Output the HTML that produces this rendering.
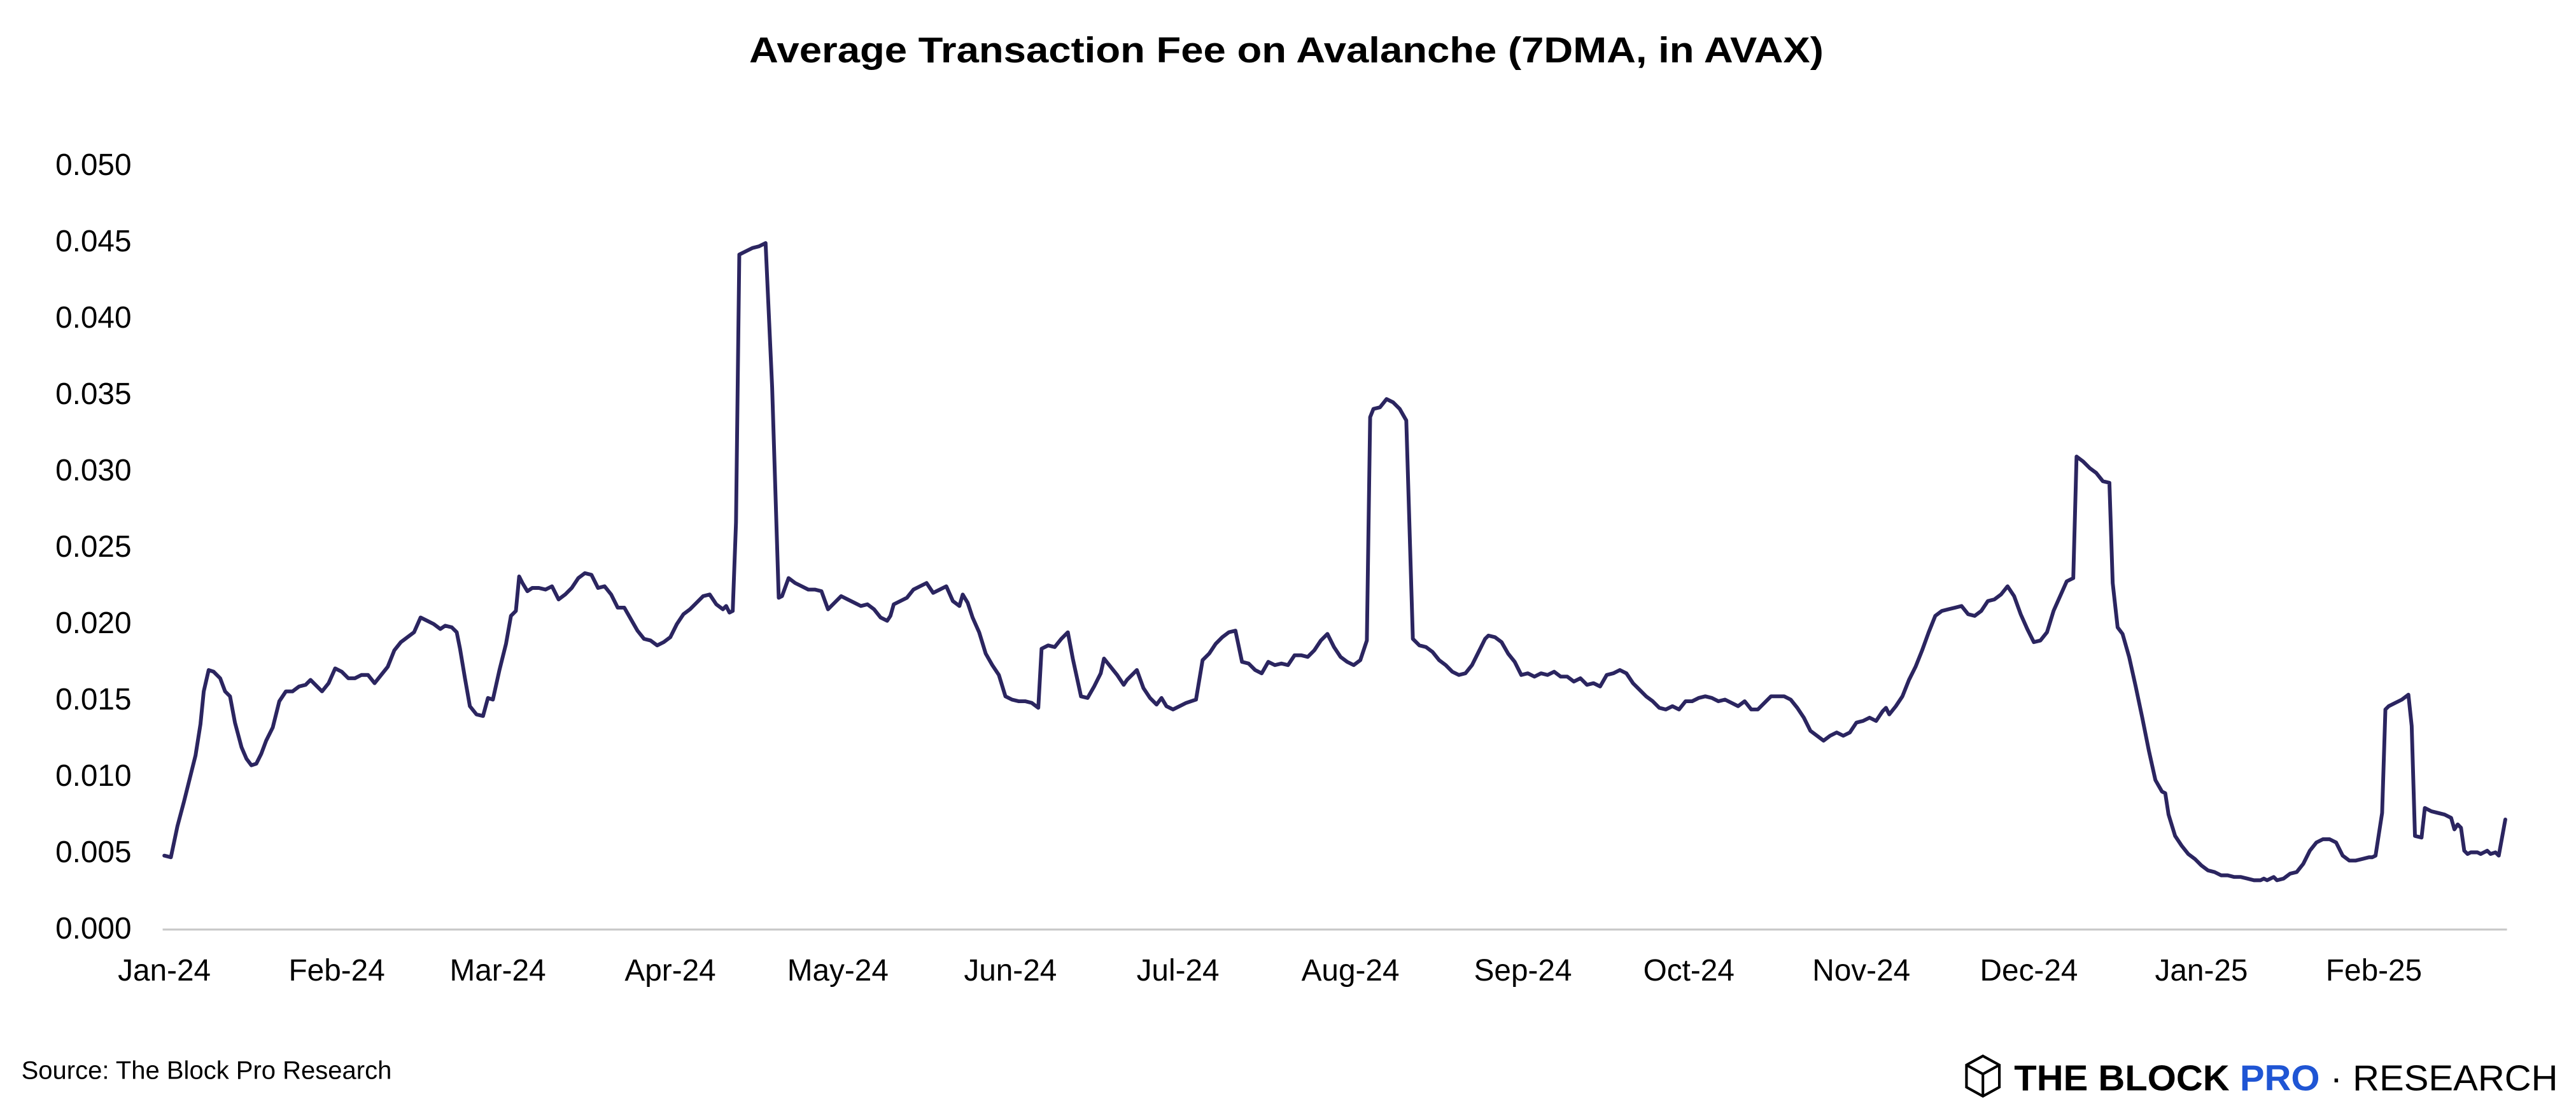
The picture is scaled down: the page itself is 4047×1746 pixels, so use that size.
<!DOCTYPE html>
<html><head><meta charset="utf-8"><style>
html,body{margin:0;padding:0;background:#fff;}
svg{display:block;}
text{font-family:"Liberation Sans",sans-serif;}
</style></head><body>
<svg width="4047" height="1746" viewBox="0 0 1568 676.5" xmlns="http://www.w3.org/2000/svg">
<text x="783" y="38" text-anchor="middle" font-size="22" font-weight="bold" fill="#000" textLength="654" lengthAdjust="spacingAndGlyphs">Average Transaction Fee on Avalanche (7DMA, in AVAX)</text>
<g font-size="18.5" fill="#000" text-anchor="end">
<text x="80" y="106.5">0.050</text>
<text x="80" y="153">0.045</text>
<text x="80" y="199.5">0.040</text>
<text x="80" y="246">0.035</text>
<text x="80" y="292.5">0.030</text>
<text x="80" y="339">0.025</text>
<text x="80" y="385.5">0.020</text>
<text x="80" y="432">0.015</text>
<text x="80" y="478.5">0.010</text>
<text x="80" y="525">0.005</text>
<text x="80" y="571.5">0.000</text>
</g>
<line x1="99" y1="566" x2="1526" y2="566" stroke="#c8c8c8" stroke-width="1.2"/>
<g font-size="18.5" fill="#000" text-anchor="middle">
<text x="100" y="597">Jan-24</text>
<text x="205" y="597">Feb-24</text>
<text x="303" y="597">Mar-24</text>
<text x="408" y="597">Apr-24</text>
<text x="510" y="597">May-24</text>
<text x="615" y="597">Jun-24</text>
<text x="717" y="597">Jul-24</text>
<text x="822" y="597">Aug-24</text>
<text x="927" y="597">Sep-24</text>
<text x="1028" y="597">Oct-24</text>
<text x="1133" y="597">Nov-24</text>
<text x="1235" y="597">Dec-24</text>
<text x="1340" y="597">Jan-25</text>
<text x="1445" y="597">Feb-25</text>
</g>
<polyline fill="none" stroke="#2b2560" stroke-width="2.3" stroke-linejoin="round" stroke-linecap="round" points="100,521 104,522 108,503 112,488 116,472 119,460 122,441 124,421 127,408 130,409 134,413 137,421 140,424 143,440 147,455 150,462 153,466 156,465 159,459 162,451 166,443 170,427 174,421 178,421 182,418 186,417 189,414 192,417 196,421 200,416 204,407 208,409 212,413 216,413 220,411 224,411 228,416 232,411 236,406 240,396 244,391 248,388 252,385 256,376 260,378 264,380 268,383 271,381 275,382 278,385 280,395 283,413 286,430 290,435 294,436 297,425 300,426 304,408 308,392 311,375 314,372 316,351 318,355 321,360 324,358 328,358 332,359 336,357 340,365 344,362 348,358 352,352 356,349 360,350 364,358 368,357 372,362 376,370 380,370 384,377 388,384 392,389 396,390 400,393 404,391 408,388 412,380 416,374 420,371 424,367 428,363 432,362 436,368 440,371 442,369 444,373 446,372 448,318 450,155 454,153 458,151 462,150 466,148 470,236 474,364 476,363 480,352 484,355 488,357 492,359 496,359 500,360 504,371 508,367 512,363 516,365 520,367 524,369 528,368 532,371 536,376 540,378 542,375 544,368 548,366 552,364 556,359 560,357 564,355 568,361 572,359 576,357 580,366 584,369 586,362 589,367 592,376 596,385 600,398 604,405 608,411 612,424 616,426 620,427 624,427 628,428 632,431 634,395 638,393 642,394 646,389 650,385 653,401 658,424 662,425 666,418 670,410 672,401 676,406 680,411 684,417 686,414 689,411 692,408 696,419 700,425 704,429 707,425 710,430 714,432 718,430 722,428 728,426 732,402 736,398 740,392 744,388 748,385 752,384 756,403 760,404 764,408 768,410 772,403 776,405 780,404 784,405 788,399 792,399 796,400 800,396 804,390 808,386 812,394 816,400 820,403 824,405 828,402 832,390 834,254 836,249 840,248 844,243 848,245 852,249 856,256 860,389 864,393 868,394 872,397 876,402 880,405 884,409 888,411 892,410 896,405 900,397 904,389 906,387 910,388 914,391 918,398 922,403 926,411 930,410 934,412 938,410 942,411 946,409 950,412 954,412 958,415 962,413 966,417 970,416 974,418 978,411 982,410 986,408 990,410 994,416 998,420 1002,424 1006,427 1010,431 1014,432 1018,430 1022,432 1026,427 1030,427 1034,425 1038,424 1042,425 1046,427 1050,426 1054,428 1058,430 1062,427 1066,432 1070,432 1074,428 1078,424 1082,424 1086,424 1090,426 1094,431 1098,437 1102,445 1106,448 1110,451 1114,448 1118,446 1122,448 1126,446 1130,440 1134,439 1138,437 1142,439 1144,436 1146,433 1148,431 1150,435 1154,430 1158,424 1162,414 1166,406 1170,396 1174,385 1178,375 1182,372 1186,371 1190,370 1194,369 1198,374 1202,375 1206,372 1210,366 1214,365 1218,362 1222,357 1226,363 1230,374 1234,383 1238,391 1242,390 1246,385 1250,372 1254,363 1258,354 1262,352 1264,278 1268,281 1272,285 1276,288 1280,293 1284,294 1286,355 1289,382 1292,386 1296,400 1300,418 1304,437 1308,457 1312,475 1316,482 1318,483 1320,496 1324,509 1328,515 1332,520 1336,523 1340,527 1344,530 1348,531 1352,533 1356,533 1360,534 1364,534 1368,535 1372,536 1376,536 1378,535 1380,536 1382,535 1384,534 1386,536 1390,535 1394,532 1398,531 1402,526 1406,518 1410,513 1414,511 1418,511 1422,513 1426,521 1430,524 1434,524 1438,523 1442,522 1444,522 1446,521 1450,495 1452,432 1454,430 1458,428 1462,426 1466,423 1468,442 1470,509 1474,510 1476,492 1480,494 1484,495 1488,496 1492,498 1494,505 1496,502 1498,504 1500,518 1502,520 1504,519 1508,519 1510,520 1512,519 1514,518 1516,520 1519,519 1521,521 1525,499"/>
<text x="13" y="657" font-size="15.5" fill="#000">Source: The Block Pro Research</text>
<g transform="translate(1196,643)" fill="none" stroke="#000" stroke-width="1.6">
<path d="M11,0 L21,5.5 L21,19 L11,24.5 L1,19 L1,5.5 Z"/>
<path d="M1,5.5 L11,11 L21,5.5 M11,11 L11,24.5"/>
</g>
<text x="1226" y="664" font-size="22" font-weight="bold" fill="#000" textLength="331" lengthAdjust="spacingAndGlyphs">THE BLOCK <tspan fill="#1f55d4">PRO</tspan> <tspan font-weight="normal">· RESEARCH</tspan></text>
</svg>
</body></html>
